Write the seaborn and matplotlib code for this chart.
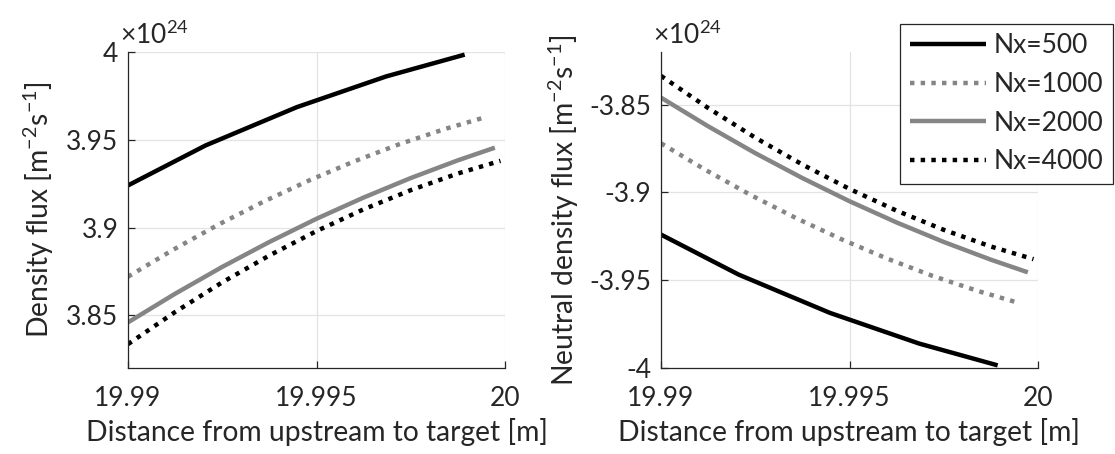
import matplotlib
matplotlib.use("Agg")
import matplotlib.pyplot as plt
import seaborn as sns
import pandas as pd

# ---- data (values in units of 1e24) ----
x_500 = [19.99, 19.99206, 19.99448, 19.99685, 19.99893]
y_500 = [3.924, 3.9468, 3.9686, 3.9861, 3.9985]

x_1000 = [19.99, 19.9912, 19.9924, 19.9936, 19.9948, 19.996, 19.9972, 19.9984, 19.9995]
y_1000 = [3.872, 3.8874, 3.9017, 3.9148, 3.9268, 3.9377, 3.9475, 3.9561, 3.963]

x_2000 = [19.99, 19.99125, 19.9925, 19.99375, 19.995, 19.99625, 19.9975, 19.99875, 19.99973]
y_2000 = [3.846, 3.8623, 3.8776, 3.8918, 3.905, 3.9171, 3.9282, 3.9383, 3.9455]

x_4000 = [19.99, 19.99125, 19.9925, 19.99375, 19.995, 19.99625, 19.9975, 19.99875, 19.99988]
y_4000 = [3.8336, 3.8519, 3.8688, 3.8841, 3.898, 3.9104, 3.9213, 3.9308, 3.938]

yn_500 = [-3.924, -3.9468, -3.9686, -3.9861, -3.9985]
yn_1000 = [-3.872, -3.8874, -3.9017, -3.9148, -3.9268, -3.9377, -3.9475, -3.9561, -3.963]
yn_2000 = [-3.846, -3.8623, -3.8776, -3.8918, -3.905, -3.9171, -3.9282, -3.9383, -3.9455]
yn_4000 = [-3.8336, -3.8519, -3.8688, -3.8841, -3.898, -3.9104, -3.9213, -3.9308, -3.938]

labels = ["Nx=500", "Nx=1000", "Nx=2000", "Nx=4000"]
x_ticks = [19.99, 19.995, 20]
x_ticklabels = ["19.99", "19.995", "20"]
left_yticks = [3.85, 3.9, 3.95, 4.0]
left_yticklabels = ["3.85", "3.9", "3.95", "4"]
right_yticks = [-4.0, -3.95, -3.9, -3.85]
right_yticklabels = ["-4", "-3.95", "-3.9", "-3.85"]

# ---- style ----
sns.set_theme(style="white")
FONT = "Lato"
plt.rcParams["font.family"] = [FONT, "DejaVu Sans"]
plt.rcParams["mathtext.fontset"] = "custom"
plt.rcParams["mathtext.rm"] = FONT
plt.rcParams["mathtext.it"] = FONT
plt.rcParams["mathtext.bf"] = FONT

TICK_FS = 19
LAB_FS = 20.3
AX_COL = "#262626"
GRID_COL = "#e3e3e3"
GRAY = "#858585"
LW = 3.2
DOT = (0, (1.0, 1.4))

styles = [
    dict(color="black", linestyle="-"),
    dict(color=GRAY, linestyle=DOT),
    dict(color=GRAY, linestyle="-"),
    dict(color="black", linestyle=DOT),
]

fig = plt.figure(figsize=(11.15, 4.54), dpi=100)
axL = fig.add_axes([128 / 1115, 1 - 368 / 454, 377 / 1115, 316 / 454])
axR = fig.add_axes([661 / 1115, 1 - 368 / 454, 377 / 1115, 316 / 454])

left_series = [(x_500, y_500), (x_1000, y_1000), (x_2000, y_2000), (x_4000, y_4000)]
right_series = [(x_500, yn_500), (x_1000, yn_1000), (x_2000, yn_2000), (x_4000, yn_4000)]

for ax, series in ((axL, left_series), (axR, right_series)):
    for (xs, ys), lab, st in zip(series, labels, styles):
        df = pd.DataFrame({"x": xs, "y": ys})
        sns.lineplot(data=df, x="x", y="y", ax=ax, label=lab, linewidth=LW,
                     solid_capstyle="butt", dash_capstyle="butt", **st)
    if ax.get_legend():
        ax.get_legend().remove()

for ax in (axL, axR):
    ax.set_xlim(19.99, 20.0)
    ax.set_xticks(x_ticks)
    ax.set_xticklabels(x_ticklabels)
    ax.grid(True, color=GRID_COL, linewidth=0.9)
    ax.set_axisbelow(True)
    for s in ("top", "right"):
        ax.spines[s].set_visible(False)
    for s in ("left", "bottom"):
        ax.spines[s].set_color(AX_COL)
        ax.spines[s].set_linewidth(0.9)
    ax.tick_params(direction="in", length=5, width=0.9, color=AX_COL,
                   labelsize=TICK_FS, labelcolor=AX_COL, left=True, bottom=True)
    ax.tick_params(axis="x", pad=13)
    ax.tick_params(axis="y", pad=7)
    ax.set_xlabel("Distance from upstream to target [m]", fontsize=LAB_FS,
                  color=AX_COL, labelpad=5)
    ax.text(-0.02, 1.01, r"$\times\mathregular{10^{24}}$", transform=ax.transAxes,
            fontsize=TICK_FS, color=AX_COL, ha="left", va="bottom")

axL.set_ylim(3.82, 4.0)
axL.set_yticks(left_yticks)
axL.set_yticklabels(left_yticklabels)
axL.set_ylabel(r"Density flux [m$^{\mathregular{-2}}$s$^{\mathregular{-1}}$]",
               fontsize=LAB_FS, color=AX_COL, labelpad=7)

axR.set_ylim(-4.0, -3.82)
axR.set_yticks(right_yticks)
axR.set_yticklabels(right_yticklabels)
axR.set_ylabel(r"Neutral density flux [m$^{\mathregular{-2}}$s$^{\mathregular{-1}}$]",
               fontsize=LAB_FS, color=AX_COL, labelpad=6)

handles = axR.get_lines()[:4]
leg = fig.legend(handles, labels, loc="upper right",
                 bbox_to_anchor=(1113 / 1115, 1 - 24 / 454),
                 fontsize=TICK_FS, frameon=True, fancybox=False, framealpha=1,
                 edgecolor=AX_COL, handlelength=2.9, handletextpad=0.3,
                 labelspacing=0.52, borderpad=0.35, borderaxespad=0)
leg.get_frame().set_linewidth(0.9)

fig.savefig("out.png", dpi=100)
